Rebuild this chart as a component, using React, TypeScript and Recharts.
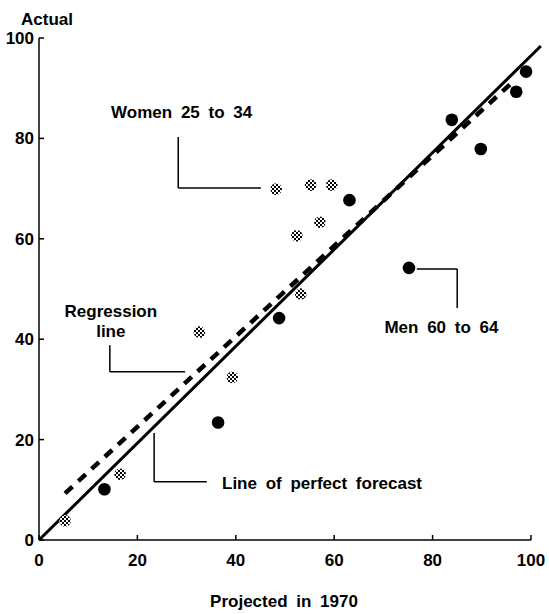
import React from 'react'
import { ScatterChart, Scatter, XAxis, YAxis, ReferenceLine, ReferenceDot } from 'recharts'

const menProjected = [13.3, 36.4, 48.8, 63.1, 75.2, 83.9, 89.8, 97.0, 99.0]
const menActual = [10.1, 23.4, 44.2, 67.7, 54.2, 83.7, 77.9, 89.3, 93.3]
const womenProjected = [5.3, 16.5, 32.6, 39.3, 48.2, 52.4, 53.2, 55.2, 57.1, 59.5]
const womenActual = [3.8, 13.1, 41.4, 32.4, 69.9, 60.6, 49.0, 70.7, 63.3, 70.7]

const perfectX = [0, 102]
const perfectY = [0, 98.4]
const regressionX = [5.3, 96]
const regressionY = [9.3, 91]

const axisTicks = [0, 20, 40, 60, 80, 100]

// callout texts and where they sit (data units)
const calloutText = ['Women 25 to 34', 'Regression', 'line', 'Line of perfect forecast', 'Men 60 to 64']
const calloutX = [29, 14.6, 14.6, 37.2, 81.8]
const calloutY = [85.3, 45.6, 41.6, 11.4, 42.4]
const calloutAnchor = ['middle', 'middle', 'middle', 'start', 'middle']

// leader lines, one polyline per callout
const leaderX = [
  [28.3, 28.3, 45.1],
  [14.4, 14.4, 29.7],
  [23.4, 23.4, 34.1],
  [76.8, 85.0, 85.0],
]
const leaderY = [
  [80.3, 70.1, 70.1],
  [38.8, 33.5, 33.5],
  [21.3, 11.6, 11.6],
  [54.0, 54.0, 46.2],
]

const FONT = '"Liberation Sans", Arial, sans-serif'
const textStyle = { fontSize: 17, fontWeight: 'bold' as const, fill: '#000', wordSpacing: 4 }

const menData = menProjected.map((x, i) => ({ x, y: menActual[i] }))
const womenData = womenProjected.map((x, i) => ({ x, y: womenActual[i] }))

function XTick(props: any) {
  const { x, y, payload } = props
  return (
    <g>
      <line x1={x} y1={y} x2={x} y2={y - 5} stroke="#000" strokeWidth={1.5} />
      <text x={x} y={y + 26} textAnchor="middle" {...textStyle}>
        {payload.value}
      </text>
    </g>
  )
}

function YTick(props: any) {
  const { x, y, payload } = props
  return (
    <g>
      <line x1={x} y1={y} x2={x + 5} y2={y} stroke="#000" strokeWidth={1.5} />
      <text x={x - 5} y={y + 6} textAnchor="end" {...textStyle}>
        {payload.value}
      </text>
    </g>
  )
}

function MenDot(props: any) {
  return <circle cx={props.cx} cy={props.cy} r={6.3} fill="#000" />
}

function WomenDot(props: any) {
  return <circle cx={props.cx} cy={props.cy} r={5.8} fill="url(#checker)" />
}

export default function App() {
  return (
    <div style={{ position: 'absolute', left: 0, top: 0 }}>
      <ScatterChart
        width={549}
        height={614}
        margin={{ top: 38, right: 18, bottom: 0, left: 0 }}
        style={{ fontFamily: FONT, background: '#fff' }}
      >
        <defs>
          <pattern id="checker" width={4} height={4} patternUnits="userSpaceOnUse">
            <rect width={4} height={4} fill="#fff" />
            <rect x={0} y={0} width={2} height={2} fill="#000" />
            <rect x={2} y={2} width={2} height={2} fill="#000" />
          </pattern>
        </defs>
        <XAxis
          type="number"
          dataKey="x"
          domain={[0, 100]}
          ticks={axisTicks}
          height={74}
          tickSize={0}
          tickMargin={0}
          tickLine={false}
          axisLine={{ stroke: '#000', strokeWidth: 1.5 }}
          tick={<XTick />}
          label={{
            content: (p: any) => (
              <text
                x={p.viewBox.x + p.viewBox.width / 2 - 1}
                y={p.viewBox.y + 67}
                textAnchor="middle"
                {...textStyle}
              >
                Projected in 1970
              </text>
            ),
          }}
        />
        <YAxis
          type="number"
          dataKey="y"
          domain={[0, 100]}
          ticks={axisTicks}
          width={39}
          tickSize={0}
          tickMargin={0}
          tickLine={false}
          axisLine={{ stroke: '#000', strokeWidth: 1.5 }}
          tick={<YTick />}
          label={{
            content: (p: any) => (
              <text
                x={p.viewBox.x + p.viewBox.width + 8}
                y={p.viewBox.y - 13}
                textAnchor="middle"
                {...textStyle}
              >
                Actual
              </text>
            ),
          }}
        />
        <ReferenceLine
          segment={[
            { x: perfectX[0], y: perfectY[0] },
            { x: perfectX[1], y: perfectY[1] },
          ]}
          ifOverflow="visible"
          stroke="#000"
          strokeWidth={3}
        />
        <ReferenceLine
          segment={[
            { x: regressionX[0], y: regressionY[0] },
            { x: regressionX[1], y: regressionY[1] },
          ]}
          ifOverflow="visible"
          stroke="#000"
          strokeWidth={4.5}
          strokeDasharray="10 8"
        />
        {leaderX.map((xs, i) =>
          xs.slice(1).map((_, j) => (
            <ReferenceLine
              key={`leader-${i}-${j}`}
              segment={[
                { x: xs[j], y: leaderY[i][j] },
                { x: xs[j + 1], y: leaderY[i][j + 1] },
              ]}
              ifOverflow="visible"
              stroke="#000"
              strokeWidth={1.5}
            />
          ))
        )}
        {calloutText.map((t, i) => (
          <ReferenceDot
            key={`callout-${i}`}
            x={calloutX[i]}
            y={calloutY[i]}
            r={0}
            ifOverflow="visible"
            shape={(p: any) => (
              <text x={p.cx} y={p.cy + 6} textAnchor={calloutAnchor[i]} {...textStyle}>
                {t}
              </text>
            )}
          />
        ))}
        <Scatter data={womenData} shape={<WomenDot />} isAnimationActive={false} />
        <Scatter data={menData} shape={<MenDot />} isAnimationActive={false} />
      </ScatterChart>
    </div>
  )
}
